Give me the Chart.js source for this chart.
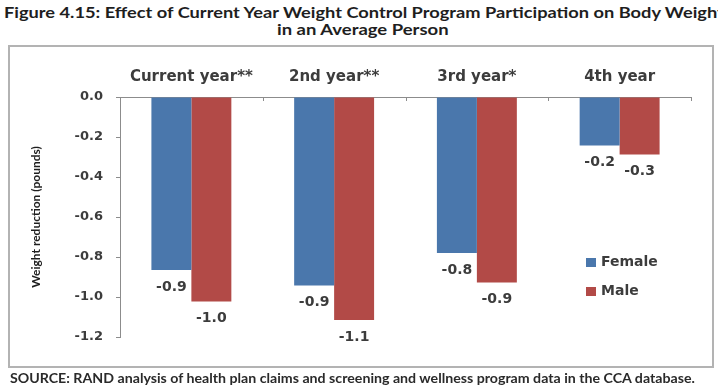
<!DOCTYPE html>
<html>
<head>
<meta charset="utf-8">
<script src="https://cdn.jsdelivr.net/npm/chart.js@4/dist/chart.umd.min.js"></script>
<style>
  body { margin: 0; background: #fff; width: 718px; height: 388px; overflow: hidden; position: relative; font-family: Lato, "Noto Sans", sans-serif; }
  #t1, #t2, #src { position: absolute; white-space: nowrap; font-weight: bold; transform-origin: left center; }
  #t1 { left: 4px; top: 2px; font-size: 16px; color: #1e1e1e; }
  #t2 { left: 277px; top: 19px; font-size: 16px; color: #1e1e1e; }
  #src { left: 10px; top: 370px; font-size: 13px; color: #2a2a2a; }
  #box { position: absolute; left: 8px; top: 45px; width: 702px; height: 319px; border: 2px solid #b3b3b3; pointer-events: none; }
  #wrap { position: absolute; left: 0; top: 0; width: 718px; height: 388px; }
</style>
</head>
<body>
<div id="t1">Figure 4.15: Effect of Current Year Weight Control Program Participation on Body Weight</div>
<div id="t2">in an Average Person</div>
<div id="box"></div>
<div id="wrap"><canvas id="myCanvas" width="718" height="388"></canvas></div>
<div id="src">SOURCE: RAND analysis of health plan claims and screening and wellness program data in the CCA database.</div>
<script>
const categories = ['Current year**', '2nd year**', '3rd year*', '4th year']
const female = [-0.865, -0.943, -0.78, -0.243]
const male = [-1.023, -1.115, -0.927, -0.287]
const yTicks = [0, -0.2, -0.4, -0.6, -0.8, -1.0, -1.2]

// stretch text lines to the widths seen in the picture
function fit(id, w) {
    let el = document.getElementById(id)
    el.style.transform = 'scaleX(' + (w / el.scrollWidth) + ')'
}
fit('t1', 720)
fit('t2', 172)
fit('src', 685)

const axisGray = '#8c8c8c'
const textGray = '#3c3c3c'
const labelFont = 'DejaVu Sans'

const barLabels = {
    id: 'barLabels',
    afterDatasetsDraw(chart) {
        let ctx = chart.ctx
        ctx.save()
        ctx.font = 'bold 14px "' + labelFont + '"'
        ctx.fillStyle = textGray
        ctx.textAlign = 'center'
        ctx.textBaseline = 'middle'
        chart.data.datasets.forEach((ds, i) => {
            chart.getDatasetMeta(i).data.forEach((bar, j) => {
                ctx.fillText(ds.data[j].toFixed(1), bar.x, bar.y + 17)
            })
        })
        ctx.restore()
    }
}

// little ticks between categories, hanging under the zero line
const catTicks = {
    id: 'catTicks',
    afterDraw(chart) {
        let x = chart.scales.x, ctx = chart.ctx
        let step = (x.right - x.left) / categories.length
        ctx.save()
        ctx.strokeStyle = axisGray
        ctx.lineWidth = 1
        for (let i = 0; i <= categories.length; i++) {
            let px = Math.round(x.left + i * step) + 0.5
            ctx.beginPath()
            ctx.moveTo(px, x.bottom)
            ctx.lineTo(px, x.bottom + 4)
            ctx.stroke()
        }
        ctx.restore()
    }
}

const sideLegend = {
    id: 'sideLegend',
    afterDraw(chart) {
        let ctx = chart.ctx
        ctx.save()
        ctx.font = 'bold 14px "' + labelFont + '"'
        ctx.textBaseline = 'middle'
        chart.data.datasets.forEach((ds, i) => {
            let y = 262 + i * 29
            ctx.fillStyle = ds.backgroundColor
            ctx.fillRect(586, y - 4, 10, 9)
            ctx.fillStyle = textGray
            ctx.fillText(ds.label, 601, y)
        })
        ctx.restore()
    }
}

let grafic = document.querySelector('#myCanvas').getContext('2d')
let myChart = new Chart(grafic, {
    type: 'bar',
    data: {
        labels: categories,
        datasets: [{
            label: 'Female',
            data: female,
            backgroundColor: '#4a77ac',
            categoryPercentage: 0.56,
            barPercentage: 1
        },
        {
            label: 'Male',
            data: male,
            backgroundColor: '#b24a47',
            categoryPercentage: 0.56,
            barPercentage: 1
        }]
    },
    options: {
        responsive: false,
        animation: false,
        layout: { padding: { left: 20, top: 45, right: 27, bottom: 51 } },
        scales: {
            x: {
                position: 'top',
                grid: { display: false, drawTicks: false },
                border: { display: true, color: axisGray, width: 1 },
                ticks: { font: { size: 15, weight: 'bold', family: labelFont }, color: textGray, padding: 11 },
                afterFit: (s) => { s.height = 52 }
            },
            y: {
                min: -1.2,
                max: 0,
                afterBuildTicks: (s) => { s.ticks = yTicks.map(v => ({ value: v })) },
                grid: { display: true, drawOnChartArea: false, drawTicks: true, tickLength: 4, color: axisGray },
                border: { display: true, color: axisGray, width: 1 },
                ticks: {
                    font: { size: 13, weight: 'bold', family: labelFont },
                    color: textGray,
                    padding: 13,
                    callback: (v) => Number(v).toFixed(1)
                },
                title: {
                    display: true,
                    text: 'Weight reduction (pounds)',
                    font: { size: 12, weight: 'bold', family: 'Lato' },
                    color: '#1e1e1e',
                    padding: { top: 9, bottom: 0 }
                },
                afterFit: (s) => { s.width = 100 }
            }
        },
        plugins: {
            legend: { display: false },
            tooltip: { enabled: false }
        }
    },
    plugins: [barLabels, catTicks, sideLegend]
})
</script>
</body>
</html>
